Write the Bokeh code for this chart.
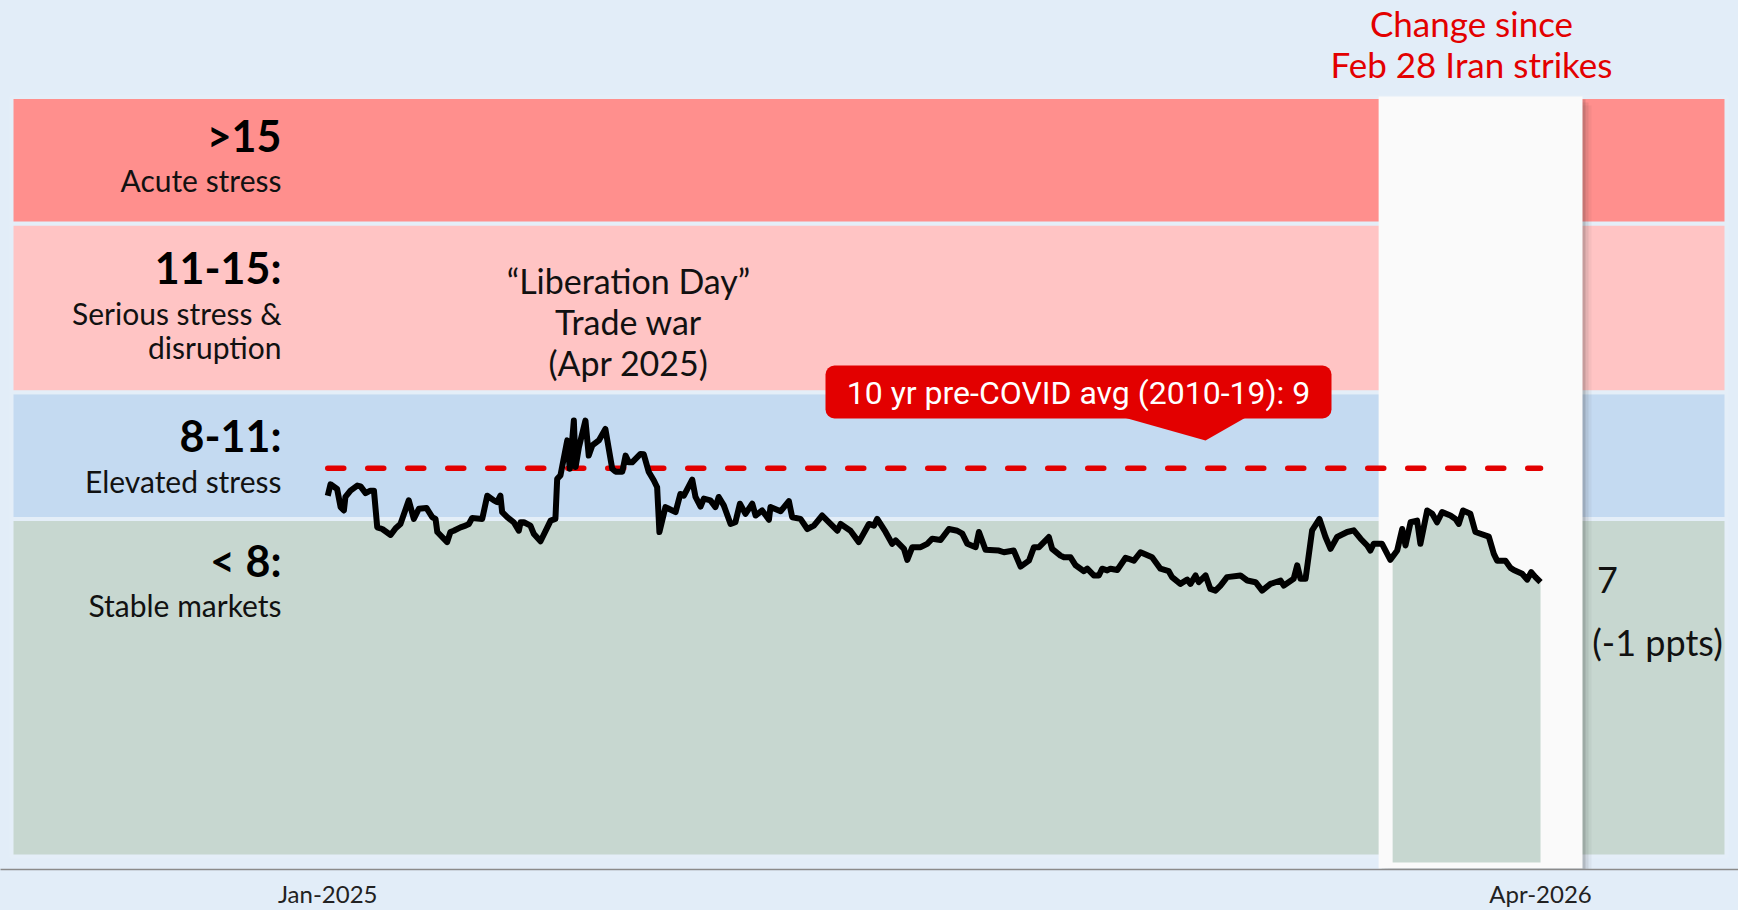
import numpy as np
from bokeh.plotting import figure
from bokeh.models import (Range1d, Label, BoxAnnotation, PolyAnnotation,
                          FixedTicker, DatetimeTickFormatter)
from bokeh.embed import file_html
from bokeh.resources import INLINE

# ---------------- data ----------------
start_date = "2025-01-02"
strike_date = "2026-02-28"

day_offset = [
    0.1, 1.2, 3.8, 5.2, 6.5, 7.1, 9.1, 11.8, 13.1, 15.1, 17.0, 18.4,
    19.7, 21.7, 25.0, 27.0, 28.9, 32.2, 34.2, 36.2, 39.2, 41.5, 42.8, 43.5,
    47.4, 48.7, 50.0, 52.7, 54.7, 56.0, 57.3, 61.3, 63.3, 65.9, 67.2, 68.5,
    69.2, 71.2, 73.8, 75.8, 76.5, 77.8, 80.4, 81.7, 84.4, 88.4, 90.3, 91.0,
    92.3, 95.0, 96.0, 97.6, 98.3, 99.6, 102.2, 103.5, 104.9, 107.5, 110.1, 112.8,
    114.1, 116.8, 118.1, 119.4, 120.7, 124.0, 125.3, 127.3, 129.3, 130.6, 131.5, 133.9,
    135.2, 137.9, 139.8, 141.2, 144.5, 145.8, 147.8, 149.1, 151.7, 153.7, 155.0, 157.0, 159.7, 161.6, 163.4,
    165.6, 168.3, 169.6, 172.2, 174.9, 175.5, 179.5, 182.8, 184.1, 187.4,
    190.1, 192.7, 196.0, 198.7, 202.0, 203.3, 207.2, 210.5, 214.5, 216.5,
    217.8, 221.1, 223.7, 225.1, 228.4, 229.7, 231.7, 235.0, 237.6, 239.6,
    242.9, 246.2, 249.5, 251.5, 253.5, 256.8, 258.1, 260.7, 266.0, 268.0,
    271.9, 274.6, 277.9, 279.9, 281.9, 285.8, 287.1, 290.4, 291.8, 294.4,
    296.4, 299.7, 301.0, 303.6, 305.6, 306.9, 308.9, 310.2, 312.9, 316.2,
    319.5, 322.1,
    326.7, 330.0, 333.3, 334.6, 337.9, 340.6, 341.9, 343.9, 345.2, 347.9,
    349.8, 351.8, 353.8, 356.4, 361.7, 364.4, 367.7, 370.3, 373.6, 377.6,
    378.9, 382.8, 384.2, 385.5, 387.5, 390.1, 393.0, 395.4, 397.4, 400.0,
    404.0, 406.6, 409.3, 411.9, 413.2, 414.5, 417.8, 421.1, 423.8, 425.8,
    427.1, 429.1, 431.7, 433.0, 435.7, 437.7, 439.6, 441.6, 444.9, 446.9,
    448.2, 449.9, 452.8, 454.8, 460.1, 462.1, 463.4, 466.7, 468.7, 470.0,
    473.3, 475.3, 476.9, 478.6, 480.6,
]

stress_index = [
    8.55, 8.82, 8.71, 8.28, 8.20, 8.52, 8.67, 8.79, 8.77, 8.61, 8.67, 8.67,
    7.80, 7.76, 7.62, 7.78, 7.88, 8.44, 8.00, 8.24, 8.26, 8.04, 8.00, 7.69,
    7.45, 7.69, 7.72, 7.80, 7.84, 7.88, 8.02, 8.00, 8.55, 8.44, 8.40, 8.55,
    8.16, 8.04, 7.92, 7.72, 7.92, 7.92, 7.84, 7.65, 7.47, 7.96, 8.00, 8.95,
    9.03, 9.86, 9.19, 10.33, 9.23, 9.70, 10.33, 9.50, 9.74, 9.86, 10.13, 9.19,
    9.12, 9.12, 9.50, 9.34, 9.34, 9.54, 9.53, 9.11, 8.91, 8.75, 7.69, 8.28,
    8.24, 8.16, 8.59, 8.55, 8.93, 8.52, 8.29, 8.48, 8.44, 8.28, 8.52, 8.32, 7.88, 7.92, 8.36,
    8.12, 8.36, 8.08, 8.20, 7.98, 8.28, 8.18, 8.42, 8.04, 8.00,
    7.76, 7.84, 8.08, 7.92, 7.72, 7.88, 7.72, 7.45, 7.88, 7.84,
    8.00, 7.69, 7.41, 7.49, 7.29, 7.03, 7.33, 7.33, 7.41, 7.53,
    7.50, 7.76, 7.72, 7.65, 7.41, 7.33, 7.69, 7.27, 7.25, 7.21,
    7.25, 6.87, 7.01, 7.33, 7.33, 7.57, 7.29, 7.13, 7.09, 7.09,
    6.90, 6.76, 6.82, 6.66, 6.66, 6.82, 6.78, 6.82, 6.79, 7.08,
    7.01, 7.21,
    7.09, 6.82, 6.76, 6.62, 6.46, 6.56, 6.46, 6.66, 6.50, 6.66,
    6.34, 6.30, 6.42, 6.62, 6.66, 6.54, 6.50, 6.30, 6.46, 6.54,
    6.42, 6.58, 6.90, 6.58, 6.58, 7.73, 8.00, 7.57, 7.29, 7.57,
    7.69, 7.73, 7.53, 7.37, 7.25, 7.41, 7.41, 7.03, 7.25, 7.76,
    7.37, 7.92, 7.96, 7.41, 8.20, 8.12, 7.92, 8.16, 8.08, 8.00,
    7.88, 8.20, 8.12, 7.69, 7.58, 7.17, 7.01, 7.01, 6.84, 6.79,
    6.70, 6.56, 6.74, 6.62, 6.50,
]

band_edges = [0, 8, 11, 15, 18]
band_colors = ["#C7D7D0", "#C4DAF1", "#FFC4C4", "#FF8F8D"]
band_titles = ["< 8:", "8-11:", "11-15:", ">15"]
band_notes = [["Stable markets"], ["Elevated stress"],
              ["Serious stress &", "disruption"], ["Acute stress"]]

pre_covid_avg = 9.2
avg_text = "10 yr pre-COVID avg (2010-19): 9"
event_text = ["\u201cLiberation Day\u201d", "Trade war", "(Apr 2025)"]
change_title = ["Change since", "Feb 28 Iran strikes"]
latest_text = "7"
change_text = "(-1 ppts)"

# ---------------- styling / layout ----------------
BG = "#E2EDF8"
RED = "#E30000"
FONT = "Lato"
DAY = 86400000.0
PXD = 2.524    # px per day
PXV = 42.2     # px per index point
X0, Y0 = 327.0, 856.0   # page px of first date / of value 0
W, H = 1738, 910
AXIS_Y = 869

t0 = float(np.datetime64(start_date, "ms").astype("int64"))
days = np.array(day_offset, dtype=float)
vals = np.array(stress_index, dtype=float)
xs = t0 + days * DAY


def X(px):
    return t0 + (px - X0) / PXD * DAY


def Y(py):
    return (Y0 - py) / PXV


p = figure(width=W, height=H, output_backend="svg", toolbar_location=None,
           x_axis_type="datetime", y_axis_location=None,
           x_range=Range1d(X(0), X(W)), y_range=Range1d(Y(AXIS_Y), Y(0)),
           min_border_left=0, min_border_right=0, min_border_top=0,
           min_border_bottom=H - AXIS_Y, background_fill_color=BG,
           border_fill_color=BG, outline_line_color=None)
p.grid.visible = False

# bands
for i, c in enumerate(band_colors):
    p.quad(left=X(11), right=X(1726), bottom=band_edges[i], top=band_edges[i + 1],
           fill_color=c, line_color="#E4EEF8", line_width=4)

# highlight column since strike
strike_off = float((np.datetime64(strike_date) - np.datetime64(start_date)).astype(int))
sx = t0 + strike_off * DAY
col_l, col_r = sx - 14 / PXD * DAY, X(1582)
col_t, col_b = Y(96), Y(868)
for off, a in [(9, 0.05), (6, 0.09), (3, 0.16)]:
    p.quad(left=col_l + off / PXD * DAY, right=col_r + off / PXD * DAY,
           top=col_t - off / PXV, bottom=col_b - off / PXV,
           fill_color="#333333", fill_alpha=a, line_color=None)
p.quad(left=col_l, right=col_r, top=col_t, bottom=col_b,
       fill_color="#FAFAFA", line_color=None)

# green area under line since strike
v_strike = float(np.interp(strike_off, days, vals))
m = days > strike_off
gx = np.concatenate([[sx], xs[m]])
gy = np.concatenate([[v_strike], vals[m]])
p.varea(x=gx, y1=Y(862), y2=gy, fill_color=band_colors[0])

# pre-covid average
p.line(x=[xs[0], xs[-1]], y=[pre_covid_avg, pre_covid_avg], line_color=RED,
       line_width=5.5, line_dash="16 24", line_cap="round")

# main series
p.line(x=xs, y=vals, line_color="black", line_width=6, line_join="round")

# callout
p.add_layout(BoxAnnotation(left=X(825), right=X(1331), top=Y(365), bottom=Y(418),
                           fill_color=RED, fill_alpha=1, line_color=None,
                           border_radius=9))
p.add_layout(PolyAnnotation(xs=[X(1120), X(1247), X(1205)],
                            ys=[Y(416), Y(416), Y(440)],
                            fill_color=RED, fill_alpha=1, line_color=None))


def lab(text, px, py, size, align="center", bold=False, color="#111111", font=FONT):
    p.add_layout(Label(x=X(px), y=Y(py), text=text, text_align=align,
                       text_baseline="middle", text_font=font,
                       text_font_size=f"{size}px", text_color=color,
                       text_font_style="bold" if bold else "normal"))


lab(avg_text, 1078, 392, 32, color="white", font="Roboto")

# band labels
title_y = [560, 435, 267, 135]
note_y = [[604], [480], [312, 346], [179]]
for t, ty, notes, nys in zip(band_titles, title_y, band_notes, note_y):
    lab(t, 281, ty, 43, align="right", bold=True, color="#000000")
    for n, ny in zip(notes, nys):
        lab(n, 281, ny, 30, align="right")

for t, yy in zip(event_text, [280, 321, 362]):
    lab(t, 628, yy, 34)
for t, yy in zip(change_title, [22, 63]):
    lab(t, 1471, yy, 35, color=RED)
lab(latest_text, 1607, 579, 36)
lab(change_text, 1657, 641, 36)

# x axis
ax = p.xaxis[0]
ax.ticker = FixedTicker(ticks=[xs[0], xs[-1]])
ax.formatter = DatetimeTickFormatter(days="%b-%Y", months="%b-%Y", years="%b-%Y")
ax.major_tick_in = 0
ax.major_tick_out = 0
ax.minor_tick_line_color = None
ax.axis_line_color = "#8A8A8A"
ax.axis_line_width = 1.5
ax.major_label_text_font = FONT
ax.major_label_text_font_size = "24px"
ax.major_label_text_color = "#222222"
ax.major_label_standoff = 9

html = file_html(p, INLINE, title="Market stress")
html = html.replace("</head>", "<style>html,body{background:%s;}</style></head>" % BG, 1)
open("out.html", "w").write(html)
